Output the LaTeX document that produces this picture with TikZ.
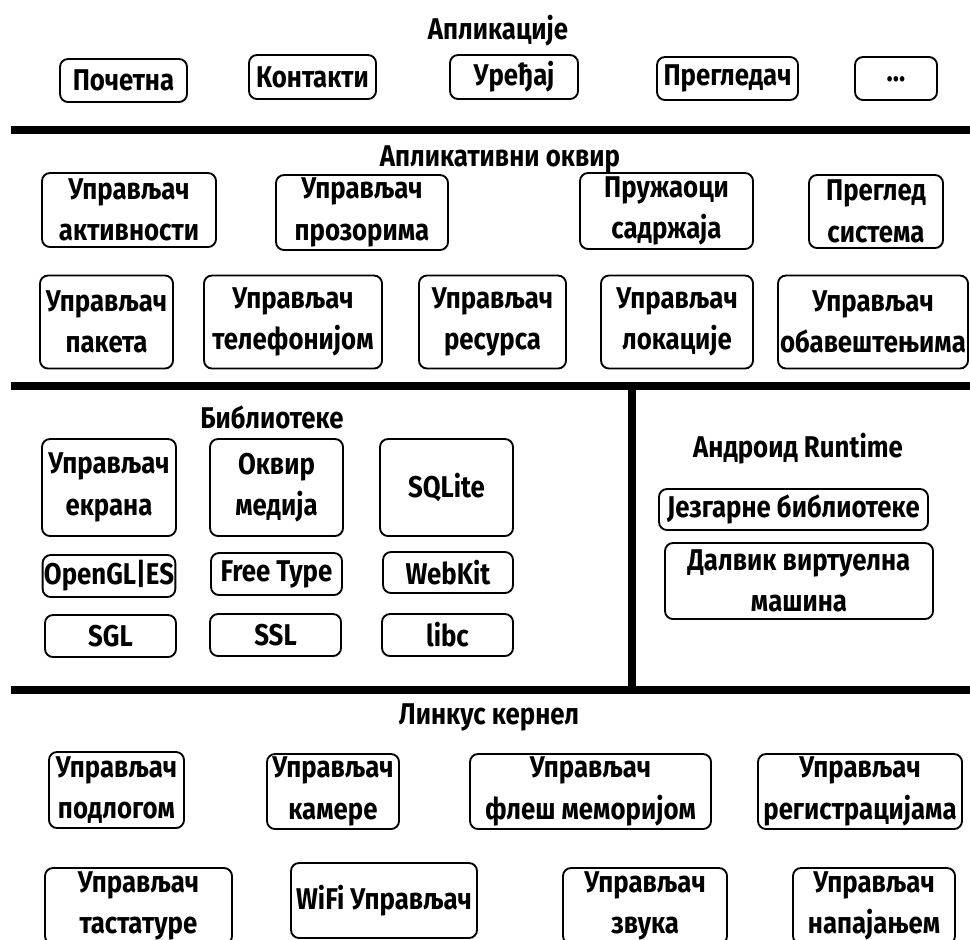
\documentclass[tikz,border=0pt]{standalone}
\usepackage{fontspec}
\setmainfont{Fira Sans}[FakeStretch=0.86]
\usetikzlibrary{positioning}

\newdimen\upx \upx=0.75pt

\tikzset{
  layer/.style={draw, line width=1.4pt, rounded corners=6pt, align=center,
    inner sep=1pt, font=\fontsize{22.5}{31}\selectfont\bfseries},
  heading/.style={font=\fontsize{22.5}{26}\selectfont\bfseries},
  divider/.style={line width=6pt}
}

\begin{document}
\begin{tikzpicture}[x=0.75pt, y=-0.75pt]
  \path[use as bounding box, clip] (0,0) rectangle (970,939);

  % applications
  \node[heading] (apptitle) at (498,31) {Апликације};
  \foreach \nm/\cx/\cy/\w/\h/\txt in {
      home/123.5/80.5/127/43/Почетна,
      contacts/312.5/77/127/44/Контакти,
      device/514/77/128/44/Уређај,
      browser/727.5/78.5/141/43/Прегледач} {
    \node[layer, minimum width=\w\upx, minimum height=\h\upx] (\nm) at (\cx,\cy) {\txt};
  }
  \node[layer, minimum width=82\upx, minimum height=43\upx] (more) at (896,78.5) {\raisebox{-5pt}{...}};
  \coordinate (s1l) at (11,130);
  \coordinate (s1r) at (970,130);
  \draw[divider] (s1l) -- (s1r);

  % application framework
  \node[heading] (fwtitle) at (500,159) {Апликативни оквир};
  \foreach \nm/\cx/\cy/\w/\h/\txt in {
      activity/129/210/174/74/{Управљач\\активности},
      window/362/212.5/172/75/{Управљач\\прозорима},
      content/666.5/211/173/76/{Пружаоци\\садржаја},
      view/876/211.5/134/73/{Преглед\\система},
      package/106.5/322/133/93/{Управљач\\пакета},
      telephony/293/322/178/93/{Управљач\\телефонијом},
      resource/492.5/322/147/93/{Управљач\\ресурса},
      location/677/322/152/93/{Управљач\\локације},
      notify/873/322/190/93/{Управљач\\обавештењима}} {
    \node[layer, minimum width=\w\upx, minimum height=\h\upx] (\nm) at (\cx,\cy) {\txt};
  }
  \coordinate (s2l) at (11,386);
  \coordinate (s2r) at (970,386);
  \draw[divider] (s2l) -- (s2r);

  % libraries
  \node[heading] (libtitle) at (272,417) {Библиотеке};
  \foreach \nm/\cx/\cy/\w/\h/\txt in {
      surface/109/487.5/134/97/{Управљач\\екрана},
      media/276.5/487.5/133/97/{Оквир\\медија},
      sqlite/446.5/487.5/133/97/SQLite,
      opengl/109/576/132/42/OpenGL|ES,
      freetype/276.5/574/131/42/Free Type,
      webkit/448/572.5/130/41/WebKit,
      sgl/110.5/636/131/42/SGL,
      ssl/275.5/635/131/42/SSL,
      libc/447.5/635/131/42/libc} {
    \node[layer, minimum width=\w\upx, minimum height=\h\upx] (\nm) at (\cx,\cy) {\txt};
  }

  % android runtime
  \node[heading] (rttitle) at (798,449) {Андроид Runtime};
  \node[layer, minimum width=269\upx, minimum height=41\upx] (corelib) at (793.5,509.5) {Језгарне библиотеке};
  \node[layer, minimum width=268\upx, minimum height=76\upx] (dalvik) at (799,581) {Далвик виртуелна\\машина};

  \coordinate (vtop) at (632,386);
  \coordinate (vbot) at (632,690);
  \draw[divider] (vtop) -- (vbot);
  \coordinate (s3l) at (11,690);
  \coordinate (s3r) at (970,690);
  \draw[divider] (s3l) -- (s3r);

  % linux kernel
  \node[heading] (kertitle) at (489,717) {Линкус кернел};
  \foreach \nm/\cx/\cy/\w/\h/\txt in {
      board/116.5/790/135/76/{Управљач\\подлогом},
      camera/333/791.5/132/75/{Управљач\\камере},
      flash/590.5/791.5/241/75/{Управљач\\флеш меморијом},
      binder/860/791.5/204/75/{Управљач\\регистрацијама},
      keypad/138.5/906/187/76/{Управљач\\тастатуре},
      wifi/384/900.5/186/75/WiFi Управљач,
      audio/645/906/164/76/{Управљач\\звука},
      power/874/906/162/76/{Управљач\\напајањем}} {
    \node[layer, minimum width=\w\upx, minimum height=\h\upx] (\nm) at (\cx,\cy) {\txt};
  }
\end{tikzpicture}
\end{document}
